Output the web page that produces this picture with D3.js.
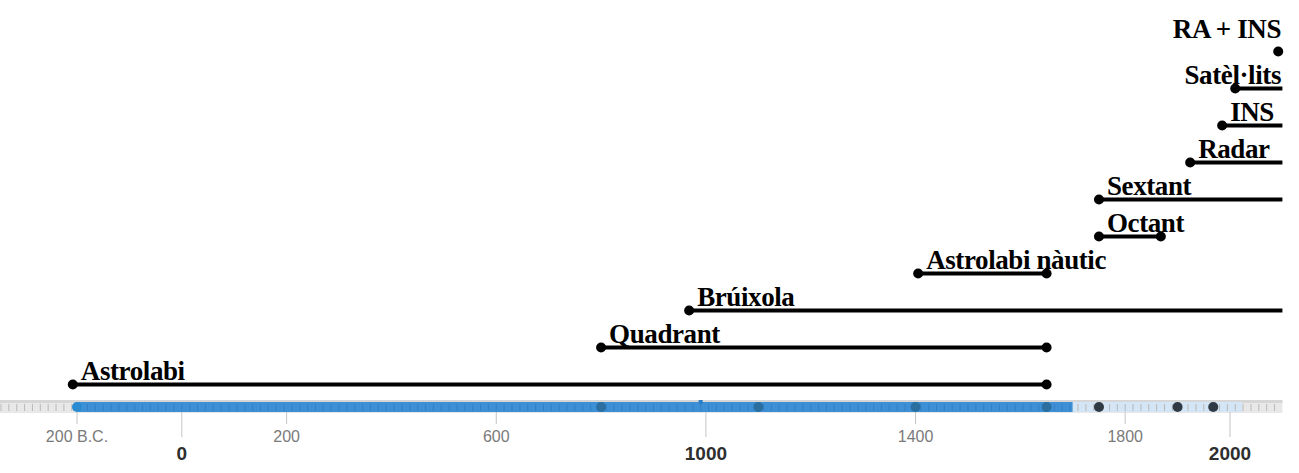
<!DOCTYPE html>
<html>
<head>
<meta charset="utf-8">
<script src="https://cdn.jsdelivr.net/npm/d3@7"></script>
<style>
  body { margin: 0; background: #fff; }
  .lbl { font-family: "Liberation Serif", "Times New Roman", serif; font-weight: bold; font-size: 27px; letter-spacing: -0.4px; fill: #000; }
  .yr { font-family: "Liberation Sans", Arial, sans-serif; }
</style>
</head>
<body>
<div id="chart"></div>
<script>
const width = 1299, height = 473;

// instruments: name, first year, last year (null = still in use)
const names  = ["Astrolabi", "Quadrant", "Brúixola", "Astrolabi nàutic", "Octant", "Sextant", "Radar", "INS", "Satèl·lits", "RA + INS"];
const starts = [-208, 800, 968, 1405, 1750, 1750, 1924, 1985, 2010, 2092];
const ends   = [1650, 1650, null, 1650, 1868, null, null, null, null, 2092];

// dots on the time bar
const barBlue = [-200, 800, 1100, 1400, 1650];
const barDark = [1750, 1900, 1968];
const fillEnd = 1700, lightEnd = 2023, marker = 990;

// axis labels
const minorYears = [-200, 200, 600, 1400, 1800];
const minorText  = ["200 B.C.", "200", "600", "1400", "1800"];
const majorYears = [0, 1000, 2000];

const x = d3.scaleLinear().domain([-200, 2000]).range([77, 1230]);
const xMax = 2100;
const y = d3.scaleBand().domain(d3.range(names.length)).range([403, 33]);

const svg = d3.select("#chart").append("svg")
    .attr("width", width)
    .attr("height", height);

// time bar
let bar = svg.append("g");
bar.append("rect").attr("x", 0).attr("y", 400).attr("width", x(xMax)).attr("height", 13).attr("fill", "#e8e8e8");
bar.append("rect").attr("x", 0).attr("y", 400).attr("width", x(xMax)).attr("height", 3).attr("fill", "#d6d6d6");
bar.append("rect").attr("x", x(-200)).attr("y", 402).attr("width", x(fillEnd) - x(-200)).attr("height", 10).attr("fill", "#3d8fd6");
bar.append("rect").attr("x", x(fillEnd)).attr("y", 402).attr("width", x(lightEnd) - x(fillEnd)).attr("height", 10).attr("fill", "#d4e5f5");

// small ticks inside bar
bar.selectAll("line.minor")
    .data(d3.range(-345, xMax, 15))
    .enter().append("line")
    .attr("x1", d => x(d)).attr("x2", d => x(d))
    .attr("y1", 404).attr("y2", 411)
    .attr("stroke", d => (d >= -200 && d <= fillEnd) ? "#3580c2" : "#b9b9b9")
    .attr("stroke-width", 1);

bar.append("rect").attr("x", x(marker) - 2).attr("y", 400).attr("width", 4).attr("height", 4).attr("fill", "#2a7fc6");

bar.selectAll("circle.b").data(barBlue).enter().append("circle")
    .attr("cx", d => x(d)).attr("cy", 407).attr("r", 5)
    .attr("fill", (d, i) => i == 0 ? "#2b8bd0" : "#2a6f9f");
bar.selectAll("circle.d").data(barDark).enter().append("circle")
    .attr("cx", d => x(d)).attr("cy", 407).attr("r", 5)
    .attr("fill", "#2f3a44");

// axis ticks + labels
svg.selectAll("line.t1").data(minorYears).enter().append("line")
    .attr("x1", d => x(d)).attr("x2", d => x(d)).attr("y1", 412).attr("y2", 424)
    .attr("stroke", "#c4c4c4");
svg.selectAll("text.t1").data(minorYears).enter().append("text")
    .attr("class", "yr")
    .attr("x", d => x(d)).attr("y", 442)
    .attr("text-anchor", "middle")
    .style("font-size", "16px").style("fill", "#7a7a7a")
    .text((d, i) => minorText[i]);

svg.selectAll("line.t2").data(majorYears).enter().append("line")
    .attr("x1", d => x(d)).attr("x2", d => x(d)).attr("y1", 412).attr("y2", 437)
    .attr("stroke", "#c4c4c4");
svg.selectAll("text.t2").data(majorYears).enter().append("text")
    .attr("class", "yr")
    .attr("x", d => x(d)).attr("y", 460)
    .attr("text-anchor", "middle")
    .style("font-size", "19px").style("font-weight", "bold").style("fill", "#2e2e2e")
    .text(d => d);

// instrument lines
const rows = names.map((n, i) => ({ name: n, s: starts[i], e: ends[i], i: i }));
const rowY = d => y(d.i) + y.bandwidth() / 2;

let g = svg.append("g");
g.selectAll("line.span").data(rows.filter(d => d.e !== d.s)).enter().append("line")
    .attr("x1", d => x(d.s))
    .attr("x2", d => x(d.e === null ? xMax : d.e))
    .attr("y1", rowY).attr("y2", rowY)
    .attr("stroke", "#000").attr("stroke-width", 4);
g.selectAll("circle.s").data(rows).enter().append("circle")
    .attr("cx", d => x(d.s)).attr("cy", rowY).attr("r", 5).attr("fill", "#000");
g.selectAll("circle.e").data(rows.filter(d => d.e !== null && d.e !== d.s)).enter().append("circle")
    .attr("cx", d => x(d.e)).attr("cy", rowY).attr("r", 5).attr("fill", "#000");

// labels, pushed left if they would run off the right edge
g.selectAll("text.lbl").data(rows).enter().append("text")
    .attr("class", "lbl")
    .attr("y", d => rowY(d) - (d.e === d.s ? 14 : 5))
    .text(d => d.name)
    .attr("x", function(d) {
        let w = this.getComputedTextLength();
        return Math.min(x(d.s) + 8, 1281 - w);
    });
</script>
</body>
</html>
